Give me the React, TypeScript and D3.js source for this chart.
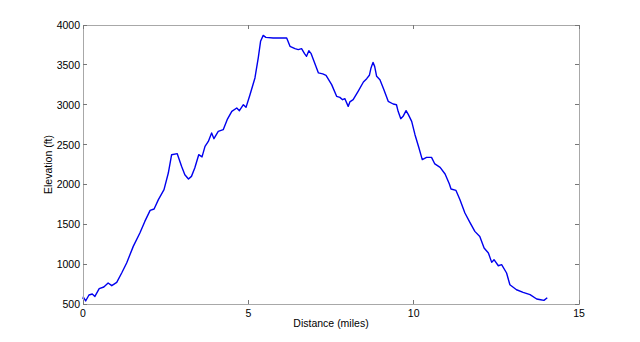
import React from "react";
import * as d3 from "d3";

const distance = [0.0, 0.01, 0.08, 0.18, 0.28, 0.36, 0.49, 0.63, 0.76, 0.87, 1.02, 1.17, 1.32, 1.52, 1.72, 1.87, 2.03, 2.15, 2.28, 2.45, 2.58, 2.68, 2.85, 2.98, 3.08, 3.19, 3.28, 3.38, 3.5, 3.6, 3.69, 3.79, 3.89, 3.96, 4.09, 4.24, 4.36, 4.5, 4.65, 4.73, 4.85, 4.93, 5.05, 5.2, 5.3, 5.37, 5.45, 5.53, 5.75, 6.16, 6.26, 6.41, 6.51, 6.61, 6.7, 6.76, 6.83, 6.9, 7.12, 7.25, 7.35, 7.52, 7.67, 7.77, 7.85, 7.92, 8.02, 8.07, 8.17, 8.32, 8.48, 8.58, 8.66, 8.71, 8.77, 8.82, 8.88, 8.98, 9.1, 9.23, 9.38, 9.48, 9.53, 9.61, 9.68, 9.77, 9.84, 9.94, 10.04, 10.16, 10.26, 10.39, 10.54, 10.64, 10.8, 10.95, 11.08, 11.13, 11.28, 11.4, 11.55, 11.7, 11.85, 12.0, 12.13, 12.26, 12.36, 12.43, 12.56, 12.66, 12.81, 12.91, 13.11, 13.31, 13.52, 13.72, 13.84, 13.94, 14.04];
const elevation = [560, 588, 538, 613, 625, 595, 692, 713, 763, 730, 771, 889, 1014, 1223, 1390, 1536, 1674, 1692, 1809, 1934, 2143, 2373, 2386, 2227, 2122, 2068, 2101, 2206, 2373, 2345, 2478, 2540, 2645, 2574, 2666, 2687, 2812, 2917, 2959, 2925, 3000, 2967, 3126, 3336, 3587, 3795, 3870, 3845, 3837, 3837, 3732, 3703, 3691, 3703, 3640, 3607, 3678, 3640, 3399, 3387, 3369, 3252, 3105, 3092, 3063, 3076, 2979, 3035, 3063, 3168, 3285, 3327, 3369, 3461, 3531, 3481, 3356, 3314, 3189, 3042, 3009, 3000, 2917, 2825, 2854, 2925, 2875, 2791, 2624, 2457, 2311, 2340, 2340, 2257, 2214, 2131, 2006, 1943, 1925, 1809, 1642, 1524, 1411, 1348, 1203, 1140, 1022, 1056, 980, 993, 889, 742, 679, 646, 617, 563, 554, 546, 579];
const xTicks = [0, 5, 10, 15];
const yTicks = [500, 1000, 1500, 2000, 2500, 3000, 3500, 4000];

const W = 640, H = 342;
const L = 83, R = 579, T = 25, B = 304;

export default function App() {
  const x = d3.scaleLinear().domain([0, 15]).range([L, R]);
  const y = d3.scaleLinear().domain([500, 4000]).range([B, T]);
  const pts = distance.map((d, i) => [d, elevation[i]] as [number, number]);
  const line = d3.line<[number, number]>().x(d => x(d[0])).y(d => y(d[1]))(pts) || "";
  const font = "'Liberation Sans', Arial, sans-serif";
  return (
    <svg width={W} height={H} style={{ position: "absolute", left: 0, top: 0, background: "#fff" }}>
      <rect x={0} y={0} width={W} height={H} fill="#fff" />
      <path d={line} fill="none" stroke="#0000ee" strokeWidth={1.4} strokeLinejoin="round" />
      <rect x={L} y={T} width={R - L} height={B - T} fill="none" stroke="#a8a8a8" strokeWidth={1} shapeRendering="crispEdges" />
      {xTicks.map(t => (
        <g key={"x" + t}>
          <line x1={x(t)} x2={x(t)} y1={B} y2={B - 4} stroke="#777" shapeRendering="crispEdges" />
          <line x1={x(t)} x2={x(t)} y1={T} y2={T + 4} stroke="#777" shapeRendering="crispEdges" />
          <text x={x(t)} y={B + 13} textAnchor="middle" fontFamily={font} fontSize={10.5} fill="#000">{t}</text>
        </g>
      ))}
      {yTicks.map(t => (
        <g key={"y" + t}>
          <line x1={L} x2={L + 4} y1={y(t)} y2={y(t)} stroke="#777" shapeRendering="crispEdges" />
          <line x1={R} x2={R - 4} y1={y(t)} y2={y(t)} stroke="#777" shapeRendering="crispEdges" />
          <text x={L - 3} y={y(t) + 4} textAnchor="end" fontFamily={font} fontSize={10.5} fill="#000">{t}</text>
        </g>
      ))}
      <text x={(L + R) / 2} y={327} textAnchor="middle" fontFamily={font} fontSize={10.5} fill="#000">Distance (miles)</text>
      <text transform={`translate(52,${(T + B) / 2}) rotate(-90)`} textAnchor="middle" fontFamily={font} fontSize={10.5} fill="#000">Elevation (ft)</text>
    </svg>
  );
}
